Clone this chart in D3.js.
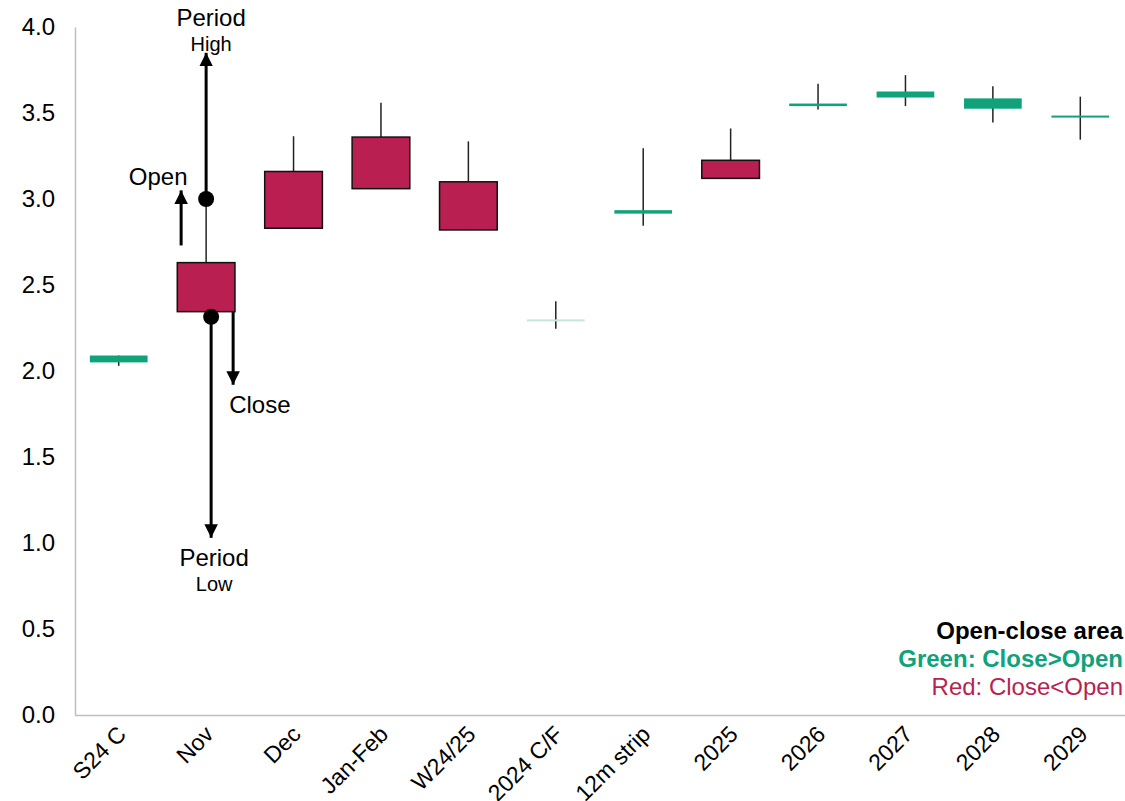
<!DOCTYPE html>
<html><head><meta charset="utf-8">
<script src="https://cdn.jsdelivr.net/npm/d3@7"></script>
<style>
html,body{margin:0;padding:0;background:#fff;}
svg{display:block;font-family:"Liberation Sans",Arial,sans-serif;}
</style></head>
<body>
<svg id="chart" width="1125" height="801"></svg>
<script>
const categories = ["S24 C","Nov","Dec","Jan-Feb","W24/25","2024 C/F","12m strip","2025","2026","2027","2028","2029"];
const openVals  = [2.05, 2.63, 3.16, 3.36, 3.10, 2.30, 2.915, 3.225, 3.54, 3.59, 3.525, 3.475];
const closeVals = [2.09, 2.345, 2.83, 3.06, 2.82, 2.30, 2.935, 3.12, 3.555, 3.625, 3.585, 3.485];
const highVals  = [2.09, 3.00, 3.365, 3.56, 3.335, 2.405, 3.295, 3.41, 3.67, 3.72, 3.655, 3.595];
const lowVals   = [2.03, 2.315, 2.83, 3.06, 2.82, 2.245, 2.845, 3.12, 3.52, 3.54, 3.445, 3.345];
const yTicks = [0,0.5,1,1.5,2,2.5,3,3.5,4];

const GREEN = "#10a27b", RED = "#b91f50";
const FONT = "Liberation Sans, Arial, sans-serif";
const data = categories.map((c,i)=>({c, o:openVals[i], cl:closeVals[i], h:highVals[i], l:lowVals[i]}));

const svg = d3.select("#chart");
const x = d3.scaleBand().domain(categories).range([75,1124]).paddingInner(0.34).paddingOuter(0.17);
const y = d3.scaleLinear().domain([0,4]).range([715,27]);
const cx = c => x(c) + x.bandwidth()/2;

// axes
const yAxis = d3.axisLeft(y).tickValues(yTicks).tickFormat(d3.format(".1f")).tickSize(0).tickPadding(20);
const gy = svg.append("g").attr("transform","translate(75,0)").call(yAxis);
gy.select(".domain").attr("stroke","#bfbfbf").attr("stroke-width",1.5);
gy.selectAll("text").attr("font-size",24).attr("fill","#000").attr("font-family",FONT);

const xAxis = d3.axisBottom(x).tickSize(0).tickPadding(0);
const gx = svg.append("g").attr("transform","translate(0,715)").call(xAxis);
gx.select(".domain").attr("stroke","#bfbfbf").attr("stroke-width",1.5).attr("d","M75,0.5H1125");
gx.selectAll("text")
  .attr("font-size",23).attr("fill","#000").attr("font-family",FONT)
  .attr("text-anchor","end").attr("dy","0.35em").attr("y",0)
  .attr("transform","translate(3,15) rotate(-45)");

// candles
const g = svg.append("g");
g.selectAll(".wick").data(data).join("line")
  .attr("x1",d=>cx(d.c)).attr("x2",d=>cx(d.c))
  .attr("y1",d=>y(d.h)).attr("y2",d=>y(d.l))
  .attr("stroke","#222").attr("stroke-width",1.5);

g.selectAll(".body").data(data).join("rect")
  .attr("x",d=>x(d.c)).attr("width",x.bandwidth())
  .attr("y",d=>y(Math.max(d.o,d.cl)))
  .attr("height",d=>Math.max(2, y(Math.min(d.o,d.cl)) - y(Math.max(d.o,d.cl))))
  .attr("fill",d=>d.cl>d.o?GREEN:(d.cl<d.o?RED:"#c5e6da"))
  .attr("stroke",d=>d.cl<d.o?"#111":"none")
  .attr("stroke-width",1.5);

// annotation on Nov candle
const nov = data[1];
const nx = cx(nov.c);
const defs = svg.append("defs");
defs.append("marker").attr("id","arr").attr("viewBox","0 0 10 10").attr("refX",10).attr("refY",5)
  .attr("markerWidth",4.5).attr("markerHeight",4.5).attr("markerUnits","strokeWidth").attr("orient","auto")
  .append("path").attr("d","M0,0L10,5L0,10z").attr("fill","#000");
const ann = svg.append("g").attr("font-family",FONT);
function arrow(x1,y1,x2,y2){
  ann.append("line").attr("x1",x1).attr("y1",y1).attr("x2",x2).attr("y2",y2)
    .attr("stroke","#000").attr("stroke-width",3).attr("marker-end","url(#arr)");
}
const highMarkVal = 3.85, lowMarkVal = 1.03;
arrow(nx, y(nov.h), nx, y(highMarkVal));
arrow(nx+5, y(nov.l), nx+5, y(lowMarkVal));
arrow(nx-25, y(2.73), nx-25, y(3.05));
arrow(nx+27, y(nov.cl), nx+27, y(1.92));
ann.append("circle").attr("cx",nx).attr("cy",y(nov.h)).attr("r",8).attr("fill","#000");
ann.append("circle").attr("cx",nx+5).attr("cy",y(nov.l)).attr("r",8).attr("fill","#000");

const tA = (t,xx,yy,size,anchor)=>ann.append("text").text(t).attr("x",xx).attr("y",yy)
  .attr("font-size",size).attr("text-anchor",anchor||"middle").attr("fill","#000");
tA("Period", nx+5, 26, 24);
tA("High", nx+5, 51, 20);
tA("Open", nx-48, 185, 24);
tA("Close", nx+23, 413, 24, "start");
tA("Period", nx+8, 566, 24);
tA("Low", nx+8, 591, 20);

// legend
const lg = svg.append("g").attr("text-anchor","end").attr("font-size",24).attr("font-family",FONT);
lg.append("text").attr("x",1123).attr("y",639).attr("font-weight","bold").attr("fill","#000").text("Open-close area");
lg.append("text").attr("x",1123).attr("y",667).attr("font-weight","bold").attr("fill",GREEN).text("Green: Close>Open");
lg.append("text").attr("x",1123).attr("y",695).attr("fill",RED).text("Red: Close<Open");
</script>
</body></html>
